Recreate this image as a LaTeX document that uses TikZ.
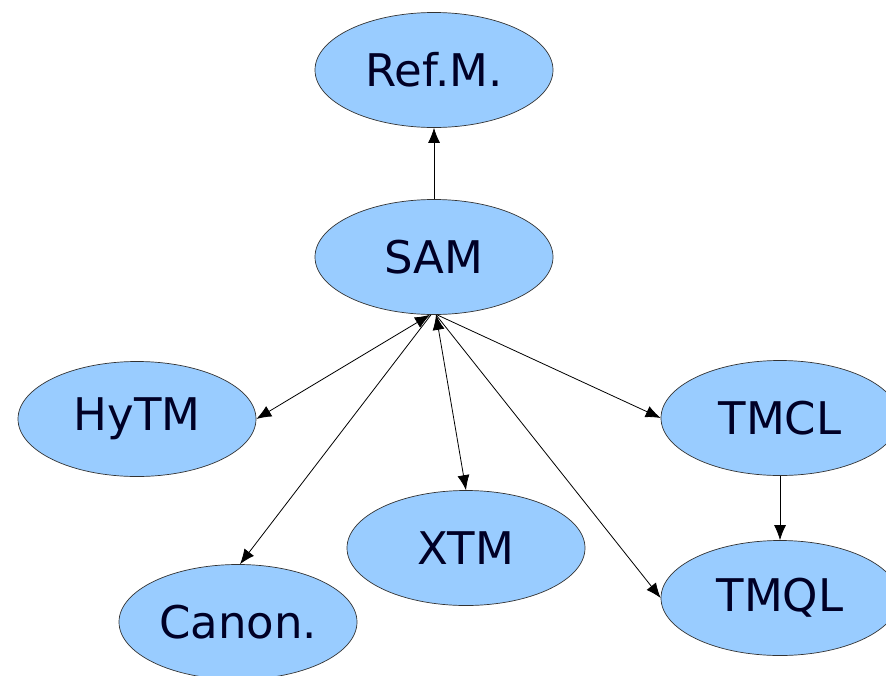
\documentclass[tikz,border=0pt]{standalone}
\usepackage{fontspec}
\setmainfont{DejaVu Sans}
\usetikzlibrary{shapes.geometric,arrows.meta}

\tikzset{
  spec/.style={ellipse, draw=black!80, line width=0.7pt, fill=specblue,
    minimum width=238pt, minimum height=115pt, inner sep=0pt,
    font=\fontsize{45}{52}\selectfont, text=black!85!blue},
  link/.style={-{Latex[length=15pt,width=12pt]}, line width=0.8pt},
  duplex/.style={{Latex[length=15pt,width=12pt]}-{Latex[length=15pt,width=12pt]}, line width=0.8pt}
}
\definecolor{specblue}{RGB}{153,204,255}

\begin{document}
\begin{tikzpicture}[x=1pt,y=-1pt]
          \useasboundingbox (0,0) rectangle (886,675);
          % seven ellipses
          \node[spec] (refm) at (434,70) {Ref.M.};
          \node[spec] (sam) at (434,257) {SAM};
          \node[spec] (hytm) at (137,419) {HyTM};
          \node[spec] (tmcl) at (780,418) {TMCL};
          \node[spec] (xtm) at (466,548) {XTM};
          \node[spec] (tmql) at (780,598) {TMQL};
          \node[spec] (canon) at (238,622) {Canon.};
          % arrows out of SAM
          \draw[link] (sam.north) -- (refm.south);
          \draw[duplex] (sam.266) -- (hytm.east);
          \draw[link] (sam.267) -- (canon.88);
          \draw[duplex] (sam.272) -- (xtm.north);
          \draw[link] (sam.273) -- (tmcl.west);
          \draw[link] (sam.272) -- (tmql.west);
          % one arrow between the two queries
          \draw[link] (tmcl.south) -- (tmql.north);
        \end{tikzpicture}
\end{document}
